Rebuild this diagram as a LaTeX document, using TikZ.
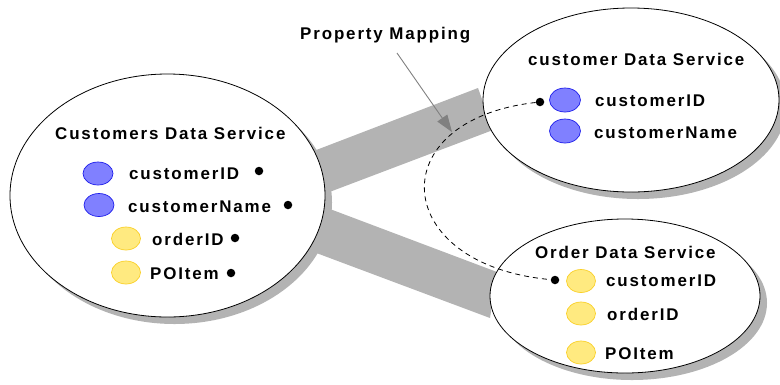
\documentclass[tikz,border=0pt]{standalone}
\usepackage{fontspec}
\setmainfont{Liberation Sans}[LetterSpace=11]
\usetikzlibrary{shapes.geometric,shadows,arrows.meta}
\definecolor{band-color}{RGB}{179,179,179}
\definecolor{key-color}{RGB}{128,128,255}
\definecolor{key-edge}{RGB}{30,30,235}
\definecolor{order-color}{RGB}{255,234,128}
\definecolor{order-edge}{RGB}{250,208,40}
\definecolor{pointer-color}{RGB}{128,128,128}
\newcommand{\textsize}{\fontsize{17}{20}\selectfont\bfseries}

\tikzset{
    service/.style={ellipse, draw, fill=white, line width=0.8bp, inner sep=0pt,
        drop shadow={shadow xshift=7bp, shadow yshift=-7bp, fill=band-color, opacity=1}},
    keyprop/.style={ellipse, draw=key-edge, fill=key-color, line width=0.7bp,
        minimum width=30bp, minimum height=23bp, inner sep=0pt},
    orderprop/.style={ellipse, draw=order-edge, fill=order-color, line width=0.7bp,
        minimum width=29bp, minimum height=23bp, inner sep=0pt},
    proptext/.style={anchor=base west, inner sep=0pt, font=\textsize},
    plug/.style={circle, fill=black, inner sep=0pt, minimum size=8.5bp},
}

\begin{document}
\begin{tikzpicture}[x=1bp,y=-1bp]
    \useasboundingbox (0,0) rectangle (780,384);

    % bands between the services
    \fill[band-color] (298,157) -- (478,88) -- (493,130) -- (311,199) -- cycle;
    \fill[band-color] (314,203) -- (497,272) -- (490,318) -- (303,248) -- cycle;

    % services
    \node[service, minimum width=315bp, minimum height=243bp] (customers) at (167.5,195.5) {};
    \node[service, minimum width=296bp, minimum height=184bp] (customer) at (631,100) {};
    \node[service, minimum width=270bp, minimum height=154bp] (order) at (625,296) {};

    % Customers Data Service
    \node[proptext] (customers-title) at (55,139) {Customers Data Service};
    \node[keyprop] (customers-id-key) at (98,173.5) {};
    \node[proptext] (customers-id) at (129,179) {customerID};
    \node[plug] (customers-id-plug) at (259,171) {};
    \node[keyprop] (customers-name-key) at (99,205) {};
    \node[proptext] (customers-name) at (128,212) {customerName};
    \node[plug] (customers-name-plug) at (288,205) {};
    \node[orderprop] (customers-order-key) at (126,238.5) {};
    \node[proptext] (customers-order) at (152,245) {orderID};
    \node[plug] (customers-order-plug) at (235,238) {};
    \node[orderprop] (customers-item-key) at (126,272.5) {};
    \node[proptext] (customers-item) at (150,279) {POItem};
    \node[plug] (customers-item-plug) at (231,273) {};

    % customer Data Service
    \node[proptext] (customer-title) at (528,65) {customer Data Service};
    \node[plug] (customer-id-plug) at (540,102) {};
    \node[keyprop, minimum width=31bp, minimum height=24bp] (customer-id-key) at (565,100) {};
    \node[proptext] (customer-id) at (595,106) {customerID};
    \node[keyprop, minimum width=31bp, minimum height=24bp] (customer-name-key) at (565,131) {};
    \node[proptext] (customer-name) at (594,138) {customerName};

    % Order Data Service
    \node[proptext] (order-title) at (535,258) {Order Data Service};
    \node[plug] (order-id-plug) at (555,280) {};
    \node[orderprop] (order-id-key) at (581,281) {};
    \node[proptext] (order-id) at (606,286) {customerID};
    \node[orderprop] (order-order-key) at (581,313.5) {};
    \node[proptext] (order-order) at (607,320) {orderID};
    \node[orderprop] (order-item-key) at (581,352.5) {};
    \node[proptext] (order-item) at (605,359) {POItem};

    % mapping
    \draw[line width=0.8bp, dash pattern=on 5bp off 4bp] (customer-id-plug) .. controls (380,120) and (390,265) .. (order-id-plug);
    \node[proptext] (mapping) at (300,39) {Property Mapping};
    \coordinate (mapfrom) at (397,53);
    \coordinate (maptip) at (452,132);
    \draw[pointer-color, line width=0.9bp, -{Triangle[length=17bp,width=12bp]}] (mapfrom) -- (maptip);
\end{tikzpicture}
\end{document}
